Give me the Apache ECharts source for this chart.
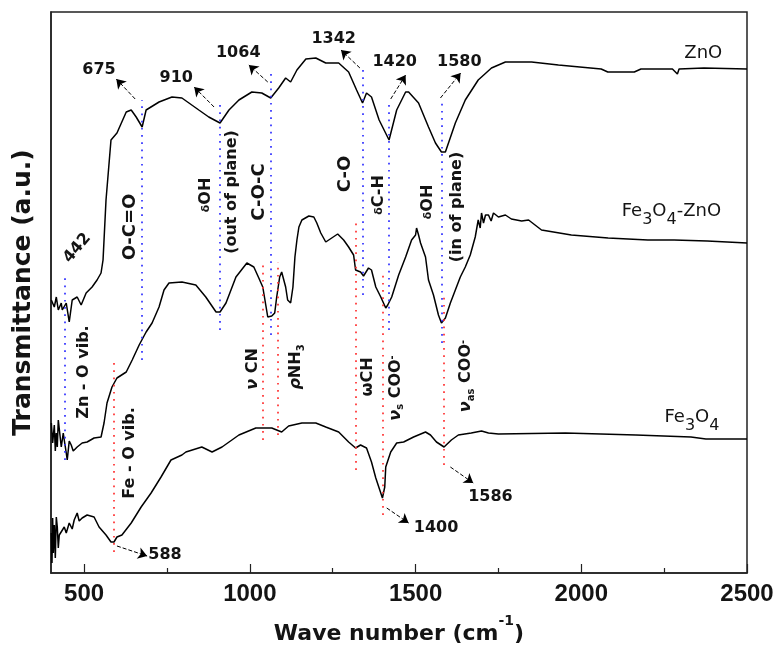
<!DOCTYPE html>
<html>
<head>
<meta charset="utf-8">
<script src="https://cdn.jsdelivr.net/npm/echarts@6/dist/echarts.min.js"></script>
<style>
  html, body { margin: 0; padding: 0; background: #fff; }
  #chart { width: 774px; height: 648px; }
</style>
</head>
<body>
<div id="chart"></div>
<script>
// FTIR spectra of ZnO, Fe3O4-ZnO and Fe3O4 (transmittance, arbitrary units)

const xTicks = [500, 1000, 1500, 2000, 2500];
const xMinorTicks = [750, 1250, 1750, 2250];

const znoWave = [401, 410, 416, 422, 431, 434, 446, 455, 464, 479, 491, 506, 524, 539, 551, 557, 566, 581, 599, 627,
    642, 657, 675, 687, 726, 765, 795, 846, 876, 910, 937, 967, 1006, 1036, 1063, 1087, 1108, 1123, 1142, 1169,
    1199, 1229, 1268, 1298, 1322, 1340, 1352, 1367, 1390, 1420, 1443, 1470, 1479, 1509, 1539, 1560, 1578, 1590,
    1620, 1650, 1689, 1729, 1771, 1850, 1931, 2060, 2080, 2160, 2180, 2275, 2290, 2295, 2370, 2500];
const znoT = [273, 266, 276, 263, 270, 263, 270, 251, 273, 276, 268, 280, 286, 293, 300, 313, 373, 433, 440, 461,
    463, 456, 446, 463, 471, 476, 475, 463, 456, 450, 463, 473, 481, 480, 475, 485, 495, 491, 503, 514,
    515, 510, 510, 501, 483, 470, 480, 476, 453, 433, 463, 481, 481, 470, 446, 430, 421, 421,
    450, 473, 493, 505, 511, 511, 508, 504, 501, 501, 504, 504, 499, 504, 505, 504];

const mixWave = [401, 405, 410, 413, 416, 419, 422, 428, 431, 437, 440, 446, 449, 455, 461, 467, 470, 479, 494, 509,
    530, 551, 560, 569, 584, 599, 627, 645, 666, 687, 705, 726, 741, 756, 795, 837, 867, 898, 910, 928,
    958, 991, 1012, 1027, 1039, 1048, 1054, 1066, 1075, 1081, 1090, 1096, 1108, 1114, 1123, 1130, 1136, 1142,
    1148, 1157, 1178, 1193, 1202, 1214, 1229, 1247, 1265, 1283, 1298, 1313, 1319, 1334, 1343, 1358, 1367,
    1380, 1395, 1410, 1416, 1428, 1449, 1470, 1488, 1500, 1503, 1509, 1515, 1530, 1539, 1554, 1569, 1578,
    1590, 1605, 1620, 1635, 1650, 1665, 1680, 1689, 1695, 1699, 1705, 1711, 1720, 1728, 1735, 1750, 1771,
    1789, 1820, 1841, 1880, 1970, 2081, 2201, 2280, 2380, 2500];
const mixT = [150, 130, 148, 122, 140, 126, 153, 135, 126, 140, 133, 120, 113, 132, 128, 122, 120, 126, 130, 131,
    135, 136, 150, 170, 186, 195, 201, 213, 228, 241, 250, 266, 283, 290, 291, 288, 276, 261, 261, 270,
    296, 310, 306, 295, 286, 268, 256, 257, 260, 276, 296, 301, 286, 273, 270, 286, 316, 333,
    346, 353, 357, 356, 350, 340, 331, 335, 339, 333, 326, 318, 303, 301, 297, 305, 303,
    286, 276, 265, 268, 276, 298, 316, 333, 338, 345, 338, 330, 316, 293, 278, 258, 250,
    255, 270, 283, 296, 306, 318, 336, 353, 345, 360, 350, 358, 358, 352, 360, 356, 358,
    354, 352, 353, 343, 338, 335, 333, 333, 332, 330];

const feWave = [401, 403, 405, 407, 410, 413, 416, 419, 422, 425, 431, 440, 446, 455, 464, 470, 479, 485, 494, 509,
    530, 545, 566, 581, 590, 599, 614, 642, 672, 702, 732, 762, 795, 807, 855, 886, 916, 967, 1018, 1066,
    1096, 1117, 1157, 1199, 1229, 1268, 1298, 1319, 1334, 1352, 1367, 1380, 1392, 1400, 1407, 1410, 1425,
    1443, 1464, 1494, 1530, 1545, 1563, 1586, 1608, 1629, 1668, 1699, 1720, 1750, 1952, 2165, 2331, 2376, 2500];
const feT = [40, 10, 55, 20, 48, 15, 56, 46, 25, 38, 36, 46, 40, 50, 44, 53, 60, 52, 55, 58,
    56, 46, 38, 31, 31, 36, 38, 50, 66, 80, 96, 113, 118, 121, 126, 121, 126, 138, 145, 145,
    141, 147, 150, 150, 146, 141, 131, 125, 128, 125, 111, 95, 83, 75, 86, 106, 121,
    130, 131, 136, 141, 138, 131, 126, 133, 138, 140, 142, 140, 139, 140, 138, 136, 134, 134];

// assigned bands
const znoBands = [442, 675, 910, 1064, 1342, 1420, 1580];
const feBands = [588, 1039, 1084, 1320, 1400, 1586];
const znoNumbered = ['675', '910', '1064', '1342', '1420', '1580'];
const feNumbered = ['588', '1400', '1586'];

// layout (axis units) for the annotation graphics
const blueSpan = [[113, 295], [213, 473], [243, 468], [238, 503], [278, 508], [243, 473], [230, 473]];
const redSpan = [[21, 213], [133, 311], [138, 311], [103, 353], [58, 298], [108, 278]];
const znoNumPos = [[545, 503], [778, 495], [965, 520], [1253, 534], [1437, 511], [1632, 511]];
const znoArrows = [[[654, 474], [597, 494]], [[892, 466], [832, 486]], [[1054, 491], [997, 508]],
    [[1332, 505], [1275, 523]], [[1425, 474], [1470, 498]], [[1575, 475], [1636, 500]]];
const feNumPos = [[744, 18], [1562, 45], [1726, 76]];
const feArrows = [[[599, 27], [690, 17]], [[1413, 65], [1479, 50]], [[1605, 106], [1674, 90]]];

const groupLabels = [
    { text: '{big|O-C=O}', at: [638, 346] },
    { text: '{g|δ}{b|OH}', at: [867, 378] },
    { text: '{b|(out of plane)}', at: [946, 381] },
    { text: '{big|C-O-C}', at: [1030, 381] },
    { text: '{big|C-O}', at: [1288, 399] },
    { text: '{g|δ}{b|C-H}', at: [1388, 378] },
    { text: '{g|δ}{b|OH}', at: [1536, 371] },
    { text: '{b|(in of plane)}', at: [1626, 366] },
    { text: '{b|Zn - O vib.}', at: [498, 201] },
    { text: '{b|Fe - O vib.}', at: [637, 120] },
    { text: '{gi|ν}{b| CN}', at: [1010, 204] },
    { text: '{gi|ρ}{b|NH}{s|3}', at: [1143, 206] },
    { text: '{g2|ω}{b|CH}', at: [1355, 196] },
    { text: '{gi|ν}{s|s}{b| COO}{p|-}', at: [1443, 185] },
    { text: '{gi|ν}{s|as}{b| COO}{p|-}', at: [1656, 197] }
];
const curveLabels = [
    { text: '{n|ZnO}', at: [2368, 520] },
    { text: '{n|Fe}{c|3}{n|O}{c|4}{n|-ZnO}', at: [2272, 358] },
    { text: '{n|Fe}{c|3}{n|O}{c|4}', at: [2334, 152] }
];

const INK = '#141414';
const BLUE = '#2f2fff';
const RED = '#ff3030';
const SANS = '"DejaVu Sans", "Liberation Sans", sans-serif';
const ARIAL = '"Liberation Sans", Arial, sans-serif';

const zip = (xs, ys) => xs.map((x, i) => [x, ys[i]]);

// tokens are top aligned; a top padding pushes subscripts down
const tok = (size, extra) => Object.assign({
    fontFamily: SANS, fontSize: size, fontWeight: 'bold', verticalAlign: 'top', color: INK
}, extra || {});
const rich = {
    b: tok(16),
    big: tok(18),
    g: tok(11, { padding: [3, 0, 0, 0] }),
    g2: tok(16),
    gi: tok(16, { fontStyle: 'italic' }),
    s: tok(10, { padding: [8, 0, 0, 0] }),
    p: tok(10),
    n: tok(18, { fontWeight: 'normal' }),
    c: tok(16, { fontWeight: 'normal', padding: [9, 0, 0, 0] })
};

function textPoint(text, at, rotate) {
    return {
        coord: at,
        symbol: 'circle',
        symbolSize: 0,
        label: { show: true, position: 'inside', formatter: text, rotate: rotate, rich: rich }
    };
}

function numPoint(text, at, rotate) {
    return {
        coord: at,
        symbol: 'circle',
        symbolSize: 0,
        label: {
            show: true, position: 'inside', formatter: text, rotate: rotate || 0,
            fontFamily: SANS, fontSize: 16, fontWeight: 'bold', color: INK
        }
    };
}

function vline(w, span, color) {
    const style = { color: color, width: 1.7, type: [1.7, 5.5] };
    return [
        { coord: [w, span[0]], symbol: 'none', lineStyle: style },
        { coord: [w, span[1]], symbol: 'none' }
    ];
}

function arrow(seg) {
    return [
        { coord: seg[0], symbol: 'none', lineStyle: { color: '#000', width: 1, type: [4, 2] } },
        { coord: seg[1], symbol: 'arrow', symbolSize: 9 }
    ];
}

const lines = [];
znoBands.forEach((w, i) => lines.push(vline(w, blueSpan[i], BLUE)));
feBands.forEach((w, i) => lines.push(vline(w, redSpan[i], RED)));
znoArrows.forEach(a => lines.push(arrow(a)));
feArrows.forEach(a => lines.push(arrow(a)));

const points = [];
znoNumbered.forEach((t, i) => points.push(numPoint(t, znoNumPos[i])));
feNumbered.forEach((t, i) => points.push(numPoint(t, feNumPos[i])));
points.push(numPoint(String(znoBands[0]), [479, 325], 50));
groupLabels.forEach(g => points.push(textPoint(g.text, g.at, 90)));
curveLabels.forEach(c => points.push(textPoint(c.text, c.at, 0)));

const chart = echarts.init(document.getElementById('chart'));

const option = {
    animation: false,
    backgroundColor: '#fff',
    grid: {
        left: 51, right: 27, top: 12, bottom: 75,
        containLabel: false,
        outerBoundsMode: 'none',
        show: true, borderColor: '#222', borderWidth: 1.5, backgroundColor: 'transparent'
    },
    xAxis: [{
        type: 'value',
        min: 400,
        max: 2500,
        name: '{m|Wave number (cm}{u|-1}{m|)}',
        nameLocation: 'middle',
        nameGap: 41,
        nameTextStyle: {
            rich: {
                m: { fontFamily: SANS, fontSize: 22, fontWeight: 'bold', color: INK, verticalAlign: 'top', padding: [9, 0, 0, 0] },
                u: { fontFamily: SANS, fontSize: 14, fontWeight: 'bold', color: INK, verticalAlign: 'top' }
            }
        },
        axisLine: { lineStyle: { color: '#222', width: 1.5 } },
        axisTick: { inside: true, length: 9, customValues: xTicks, lineStyle: { color: '#222', width: 1.2 } },
        axisLabel: {
            customValues: xTicks, margin: 9,
            formatter: v => String(v),
            fontFamily: ARIAL, fontSize: 24, fontWeight: 'bold', color: INK
        },
        splitLine: { show: false }
    }, {
        type: 'value',
        min: 400,
        max: 2500,
        position: 'bottom',
        axisLine: { show: false },
        axisTick: { inside: true, length: 5, customValues: xMinorTicks, lineStyle: { color: '#222', width: 1.2 } },
        axisLabel: { show: false },
        splitLine: { show: false }
    }],
    yAxis: {
        type: 'value',
        min: 0,
        max: 561,
        name: 'Transmittance (a.u.)',
        nameLocation: 'middle',
        nameRotate: 90,
        nameGap: 15,
        nameTextStyle: { fontFamily: SANS, fontSize: 25, fontWeight: 'bold', color: INK },
        axisLine: { lineStyle: { color: '#222', width: 1.5 } },
        axisTick: { show: false },
        axisLabel: { show: false },
        splitLine: { show: false }
    },
    series: [{
        name: 'ZnO',
        type: 'line',
        data: zip(znoWave, znoT),
        showSymbol: false,
        lineStyle: { color: '#000', width: 1.5 },
        z: 3,
        markLine: { silent: true, animation: false, label: { show: false }, data: lines },
        markPoint: { silent: true, animation: false, data: points }
    }, {
        name: 'Fe3O4-ZnO',
        type: 'line',
        data: zip(mixWave, mixT),
        showSymbol: false,
        lineStyle: { color: '#000', width: 1.5 },
        z: 3
    }, {
        name: 'Fe3O4',
        type: 'line',
        data: zip(feWave, feT),
        showSymbol: false,
        lineStyle: { color: '#000', width: 1.5 },
        z: 3
    }]
};

chart.setOption(option);
</script>
</body>
</html>
